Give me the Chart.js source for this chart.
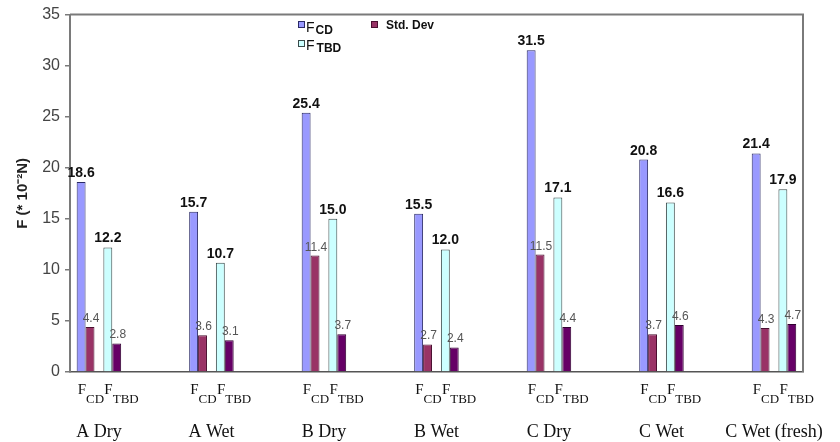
<!DOCTYPE html>
<html><head><meta charset="utf-8">
<script src="https://cdn.jsdelivr.net/npm/chart.js@4/dist/chart.umd.min.js"></script>
<style>html,body{margin:0;padding:0;background:#fff}</style>
</head><body>
<canvas id="c" width="840" height="442"></canvas>
<script>
const groups = ["A Dry","A Wet","B Dry","B Wet","C Dry","C Wet","C Wet (fresh)"];
const fcd = [18.6,15.7,25.4,15.5,31.5,20.8,21.4];
const fcdStd = [4.4,3.6,11.4,2.7,11.5,3.7,4.3];
const ftbd = [12.2,10.7,15.0,12.0,17.1,16.6,17.9];
const ftbdStd = [2.8,3.1,3.7,2.4,4.4,4.6,4.7];
const yTicks = [0,5,10,15,20,25,30,35];
const subLabels = [["F","CD"],["F","TBD"]];

const toXY = arr => arr.map((v,i)=>({x:i,y:v}));
const SANS = "'Liberation Sans', Arial, sans-serif";
const SERIF = "'Liberation Serif', 'Times New Roman', serif";

const datasets = [
  {label:"FCD", data:toXY(fcd), backgroundColor:"#9999ff", borderColor:"#2a2a66", borderWidth:1, big:true},
  {label:"Std. Dev", data:toXY(fcdStd), backgroundColor:"#993366", borderColor:"#4a1030", borderWidth:1},
  {label:"", data:[], backgroundColor:"rgba(0,0,0,0)", borderWidth:0, spacer:true},
  {label:"FTBD", data:toXY(ftbd), backgroundColor:"#ccffff", borderColor:"#3a4a4a", borderWidth:1, big:true},
  {label:"Std. Dev", data:toXY(ftbdStd), backgroundColor:"#660066", borderColor:"#300030", borderWidth:1}
];

const overlay = {
  id:"overlay",
  afterDraw(chart){
    const ctx = chart.ctx, a = chart.chartArea;
    ctx.save();
    ctx.strokeStyle = "#7a7a7a"; ctx.lineWidth = 2;
    ctx.beginPath(); ctx.moveTo(a.left, a.top); ctx.lineTo(a.right, a.top); ctx.lineTo(a.right, a.bottom); ctx.stroke();
    chart.data.datasets.forEach((ds, di) => {
      if (ds.spacer) return;
      const meta = chart.getDatasetMeta(di);
      meta.data.forEach((bar, i) => {
        const v = ds.data[i].y;
        ctx.textAlign = "center"; ctx.textBaseline = "alphabetic";
        if (ds.big) {
          ctx.font = "bold 14px " + SANS; ctx.fillStyle = "#111";
          ctx.fillText(v.toFixed(1), bar.x, bar.y - 5);
        } else {
          ctx.font = "12px " + SANS; ctx.fillStyle = "#555";
          ctx.fillText(v.toFixed(1), bar.x + 1, bar.y - 5);
        }
      });
    });
    [0,3].forEach((di, k) => {
      const meta = chart.getDatasetMeta(di);
      meta.data.forEach(bar => {
        let x = bar.x - bar.width/2 + 1;
        ctx.textAlign = "left"; ctx.textBaseline = "alphabetic"; ctx.fillStyle = "#111";
        ctx.font = "15px " + SERIF;
        ctx.fillText(subLabels[k][0], x, a.bottom + 22);
        x += ctx.measureText(subLabels[k][0]).width;
        ctx.font = "13px " + SERIF;
        ctx.fillText(subLabels[k][1], x, a.bottom + 31);
      });
    });
    const sq = (x,y,c,b) => { ctx.fillStyle=c; ctx.fillRect(x,y,7,7); ctx.strokeStyle=b; ctx.lineWidth=1; ctx.strokeRect(x+0.5,y+0.5,6,6); };
    sq(298,21,"#9999ff","#2a2a66");
    sq(298,40,"#ccffff","#3a4a4a");
    sq(371,21,"#993366","#4a1030");
    ctx.fillStyle = "#111"; ctx.textAlign="left"; ctx.textBaseline="alphabetic";
    ctx.font = "14px " + SANS; ctx.fillText("F", 306, 32);
    const w = ctx.measureText("F").width;
    ctx.font = "bold 12px " + SANS; ctx.fillText("CD", 306 + w + 1, 34);
    ctx.font = "14px " + SANS; ctx.fillText("F", 306, 50);
    ctx.font = "bold 12px " + SANS; ctx.fillText("TBD", 306 + w + 2, 52);
    ctx.font = "bold 12px " + SANS; ctx.fillText("Std. Dev", 386, 29);
    ctx.restore();
  }
};

new Chart(document.getElementById("c"), {
  type:"bar",
  data:{datasets},
  plugins:[overlay],
  options:{
    responsive:false,
    animation:false,
    layout:{padding:{left:0, top:14, right:37, bottom:0}},
    datasets:{bar:{categoryPercentage:0.3956, barPercentage:1.0}},
    plugins:{legend:{display:false}, tooltip:{enabled:false}},
    scales:{
      x:{
        type:"linear", min:-0.257, max:6.258, offset:false,
        afterBuildTicks(s){ s.ticks = groups.map((g,i)=>({value:i})); },
        afterFit(s){ s.height = 70; s.paddingLeft = 0; s.paddingRight = 0; },
        grid:{display:false, drawTicks:false, offset:false},
        border:{display:true, color:"#555", width:1.5},
        ticks:{callback:(v)=>groups[v], autoSkip:false, maxRotation:0, padding:49, color:"#111", font:{family:SERIF, size:18}}
      },
      y:{
        min:0, max:35,
        afterBuildTicks(s){ s.ticks = yTicks.map(v=>({value:v})); },
        afterFit(s){ s.width = 70; },
        grid:{drawOnChartArea:false, tickLength:5, color:"#7a7a7a", lineWidth:1.5},
        border:{display:true, color:"#7a7a7a", width:2},
        ticks:{padding:5, color:"#444", font:{family:SANS, size:16}},
        title:{display:true, text:"F (* 10⁻²N)", color:"#222", font:{family:SANS, size:15, weight:"bold"}, padding:{top:14, bottom:0}}
      }
    }
  }
});
</script>
</body></html>
